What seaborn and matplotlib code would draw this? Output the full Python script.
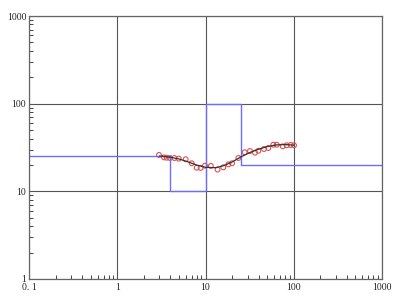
import matplotlib
matplotlib.use("Agg")
import matplotlib.pyplot as plt
import seaborn as sns
import numpy as np
import pandas as pd
from matplotlib.ticker import LogLocator, FixedLocator, NullFormatter

# Blue step model
step_x = [0.1, 4, 4, 10, 10, 25, 25, 1000]
step_y = [25.5, 25.5, 10, 10, 100, 100, 20, 20]

# Red observed points
obs_x = [2.97, 3.39, 3.63, 3.96, 4.44, 4.97, 5.96, 6.97, 7.94, 8.81, 9.86, 11.5,
         13.7, 15.9, 18.2, 20.0, 23.6, 27.8, 31.9, 36.4, 39.7, 46.0, 51.5, 58.7,
         64.1, 75.0, 83.2, 92.4, 100.7]
obs_y = [26.0, 24.4, 24.2, 24.0, 24.0, 23.6, 23.2, 20.9, 18.6, 18.5, 19.6, 19.5,
         17.7, 18.8, 20.3, 20.9, 24.0, 27.9, 28.8, 27.6, 29.0, 30.4, 31.2, 34.0,
         34.0, 32.6, 33.5, 33.8, 33.5]

# Black fitted curve
fit_x = [3, 4, 5, 6, 7, 8, 10, 13, 16, 20, 25, 32, 40, 50, 63, 80, 100]
fit_y = [25.3, 24.5, 23.4, 22.1, 20.9, 19.9, 18.8, 18.6, 19.6, 21.6, 24.6, 27.8,
         30.3, 32.4, 33.8, 34.2, 33.6]

x_ticks = [0.1, 1, 10, 100, 1000]
x_labels = ["0. 1", "1", "10", "100", "1000"]
y_ticks = [1, 10, 100, 1000]
y_labels = ["1", "10", "100", "1000"]

sns.set_style("white")
plt.rcParams["font.family"] = ["Liberation Serif", "DejaVu Serif"]

fig = plt.figure(figsize=(3.95, 2.99), dpi=100)
ax = fig.add_axes([29/395, 20/299, 353/395, 263/299])

step_df = pd.DataFrame({"x": step_x, "y": step_y})
obs_df = pd.DataFrame({"x": obs_x, "y": obs_y})
fit_df = pd.DataFrame({"x": fit_x, "y": fit_y})

ax.set_xscale("log")
ax.set_yscale("log")

sns.lineplot(data=step_df, x="x", y="y", sort=False, estimator=None, ax=ax,
             color="#6e6ef2", linewidth=1.0)
sns.lineplot(data=fit_df, x="x", y="y", sort=False, estimator=None, ax=ax,
             color="#333333", linewidth=0.9)
sns.scatterplot(data=obs_df, x="x", y="y", ax=ax, marker="o", s=12,
                facecolor="none", edgecolor="#e05050", linewidth=0.8)

ax.set_xlim(0.1, 1000)
ax.set_ylim(1, 1000)

ax.xaxis.set_major_locator(FixedLocator(x_ticks))
ax.yaxis.set_major_locator(FixedLocator(y_ticks))
ax.set_xticklabels(x_labels)
ax.set_yticklabels(y_labels)
ax.xaxis.set_minor_locator(LogLocator(base=10, subs=np.arange(2, 10), numticks=20))
ax.yaxis.set_minor_locator(LogLocator(base=10, subs=np.arange(2, 10), numticks=20))
ax.xaxis.set_minor_formatter(NullFormatter())
ax.yaxis.set_minor_formatter(NullFormatter())

ax.tick_params(which="both", bottom=True, left=True, top=False, right=False)
ax.tick_params(which="major", length=0, labelsize=7, pad=3, colors="#222222")
ax.tick_params(which="minor", direction="in", length=3, width=0.7, color="#444444")
ax.tick_params(axis="y", which="major", pad=2)

ax.grid(True, which="major", color="#555555", linewidth=0.8)
ax.grid(False, which="minor")
ax.set_axisbelow(True)
for s in ax.spines.values():
    s.set_color("#666666")
    s.set_linewidth(0.9)

ax.set_xlabel("")
ax.set_ylabel("")

fig.savefig("out.png", dpi=100)
